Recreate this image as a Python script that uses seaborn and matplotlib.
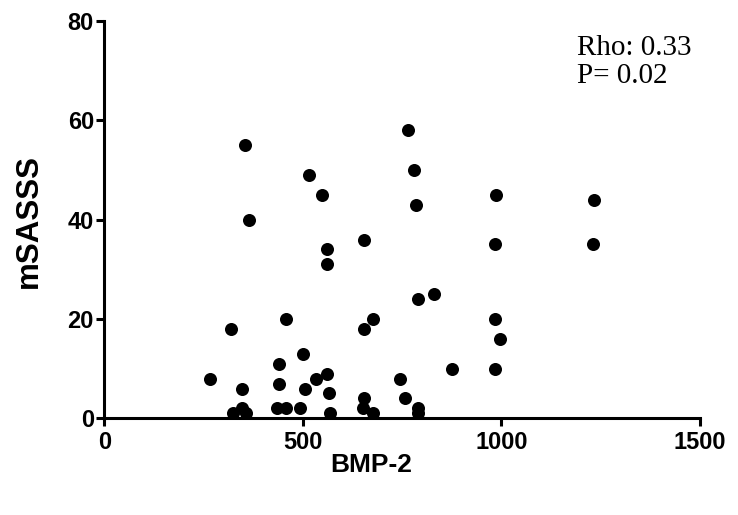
import matplotlib
matplotlib.use("Agg")
import matplotlib.pyplot as plt
import seaborn as sns
import pandas as pd

bmp2 = [266, 320, 346, 325, 346, 358, 355, 365, 440, 440, 434, 457, 457,
        501, 505, 494, 534, 560, 567, 568, 516, 549, 560, 560, 654, 677,
        654, 652, 677, 654, 744, 756, 790, 790, 790, 829, 764, 780, 786,
        875, 985, 997, 985, 987, 985, 1232, 1231]
msasss = [8, 18, 6, 1, 2, 1, 55, 40, 11, 7, 2, 2, 20,
          13, 6, 2, 8, 9, 5, 1, 49, 45, 34, 31, 18, 20,
          4, 2, 1, 36, 8, 4, 2, 1, 24, 25, 58, 50, 43,
          10, 20, 16, 10, 45, 35, 44, 35]
x_ticks = [0, 500, 1000, 1500]
y_ticks = [0, 20, 40, 60, 80]
stats_lines = ["Rho: 0.33", "P= 0.02"]

df = pd.DataFrame({"BMP-2": bmp2, "mSASSS": msasss})

sns.set_style("ticks")
plt.rcParams["font.family"] = ["Liberation Sans", "DejaVu Sans"]
plt.rcParams["text.color"] = "black"
plt.rcParams["axes.labelcolor"] = "black"
plt.rcParams["xtick.color"] = "black"
plt.rcParams["ytick.color"] = "black"
plt.rcParams["axes.edgecolor"] = "black"

fig = plt.figure(figsize=(7.38, 5.15), dpi=100)
ax = fig.add_axes([104.3 / 738, (515 - 418.3) / 515, 595.7 / 738, 397.3 / 515])

sns.scatterplot(data=df, x="BMP-2", y="mSASSS", ax=ax, color="black",
                s=88, linewidth=0, clip_on=False, zorder=3)

ax.set_xlim(0, 1500)
ax.set_ylim(0, 80)
ax.set_xticks(x_ticks)
ax.set_yticks(y_ticks)
sns.despine(ax=ax)
for side in ["left", "bottom"]:
    ax.spines[side].set_linewidth(2.2)
    ax.spines[side].set_color("black")
ax.tick_params(axis="both", width=2.2, length=5.5, labelsize=17,
               color="black", labelcolor="black")
ax.tick_params(axis="y", pad=2)
ax.tick_params(axis="x", pad=4)
for lab in ax.get_xticklabels() + ax.get_yticklabels():
    lab.set_fontweight("bold")

ax.set_xlabel("BMP-2", fontsize=19, fontweight="bold", color="black")
ax.set_ylabel("mSASSS", fontsize=22.5, fontweight="bold", color="black")
ax.xaxis.set_label_coords(0.448, -0.088)
ax.yaxis.set_label_coords(-0.102, 0.497)

ax.text(0.7935, 73.2, stats_lines[0], transform=ax.get_yaxis_transform(),
        fontsize=21, family="Liberation Serif", va="baseline", ha="left",
        color="black")
ax.text(0.7935, 67.6, stats_lines[1], transform=ax.get_yaxis_transform(),
        fontsize=21, family="Liberation Serif", va="baseline", ha="left",
        color="black")

fig.savefig("out.png", dpi=100)
